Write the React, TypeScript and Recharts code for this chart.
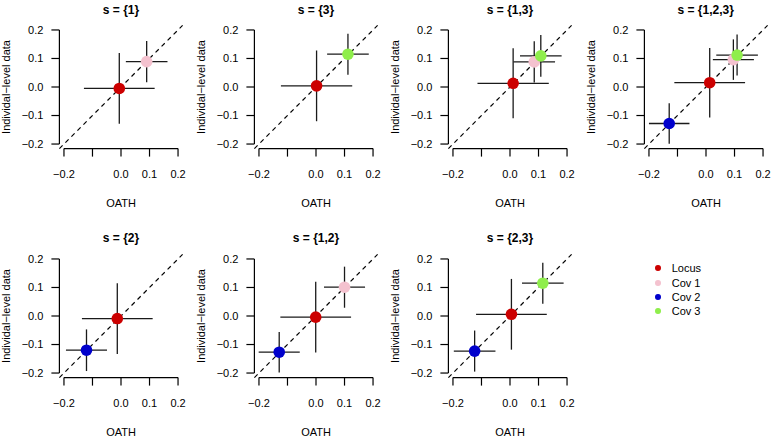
import { ScatterChart, Scatter, XAxis, YAxis, ErrorBar, ReferenceLine } from "recharts";

const titles = ["s = {1}", "s = {3}", "s = {1,3}", "s = {1,2,3}", "s = {2}", "s = {1,2}", "s = {2,3}"];
const seriesNames = ["Locus", "Cov 1", "Cov 2", "Cov 3"];
const seriesColors = ["#cc0000", "#f4c2cf", "#0000cc", "#8fee4c"];
const axisTicks = [-0.2, -0.1, 0, 0.1, 0.2];

// per panel (same order as titles), null = covariate not in s
const locusOath = [-0.006, 0.002, 0.011, 0.013, -0.013, -0.001, 0.005];
const locusInd = [-0.005, 0.004, 0.013, 0.015, -0.009, -0.004, 0.006];
const locusOathErr = [0.124, 0.125, 0.125, 0.124, 0.124, 0.124, 0.124];
const locusIndErr = [0.124, 0.124, 0.123, 0.122, 0.124, 0.124, 0.124];

const cov1Oath = [0.09, null, 0.085, 0.096, null, 0.1, null];
const cov1Ind = [0.089, null, 0.088, 0.096, null, 0.101, null];
const cov1OathErr = [0.073, null, 0.073, 0.072, null, 0.072, null];
const cov1IndErr = [0.072, null, 0.072, 0.071, null, 0.072, null];

const cov2Oath = [null, null, null, -0.129, -0.121, -0.129, -0.124];
const cov2Ind = [null, null, null, -0.128, -0.12, -0.127, -0.123];
const cov2OathErr = [null, null, null, 0.071, 0.072, 0.072, 0.073];
const cov2IndErr = [null, null, null, 0.071, 0.073, 0.071, 0.072];

const cov3Oath = [null, 0.112, 0.108, 0.109, null, null, 0.115];
const cov3Ind = [null, 0.115, 0.109, 0.112, null, null, 0.115];
const cov3OathErr = [null, 0.073, 0.073, 0.073, null, null, 0.073];
const cov3IndErr = [null, 0.072, 0.073, 0.072, null, null, 0.072];

const oathBySeries = [locusOath, cov1Oath, cov2Oath, cov3Oath];
const indBySeries = [locusInd, cov1Ind, cov2Ind, cov3Ind];
const oathErrBySeries = [locusOathErr, cov1OathErr, cov2OathErr, cov3OathErr];
const indErrBySeries = [locusIndErr, cov1IndErr, cov2IndErr, cov3IndErr];

const LIM = 0.216;
const COL_LEFT = [0, 195, 389, 584.7];
const ROW_TOP = [0, 228.7];
const FONT = "'Liberation Sans', Arial, Helvetica, sans-serif";
const AXIS_COLOR = "#000";

const tickLo = axisTicks[0];
const tickHi = axisTicks[axisTicks.length - 1];
// axis lines in R style: only from first to last tick, on the edge of the plot box
const xAxisLine = [{ x: tickLo, y: -LIM }, { x: tickHi, y: -LIM }];
const yAxisLine = [{ x: -LIM, y: tickLo }, { x: -LIM, y: tickHi }];

const fmt = (v: number) => (v < 0 ? "\u2212" : "") + Math.abs(v).toFixed(1);
const fmtX = (v: number) => (Math.abs(v + 0.1) < 1e-9 ? "" : fmt(v));

const Dot = (p: any) => <circle cx={p.cx} cy={p.cy} r={5.8} fill={p.fill} />;
const Nothing = () => <g />;

function Panel({ idx }: { idx: number }) {
  const rows = seriesNames.map((_, s) => {
    const x = oathBySeries[s][idx];
    if (x == null) return [];
    return [{ x, y: indBySeries[s][idx], ex: oathErrBySeries[s][idx], ey: indErrBySeries[s][idx] }];
  });
  return (
    <ScatterChart width={186} height={210} margin={{ top: 25.4, right: 3.4, bottom: 1.4, left: 0 }}>
      <XAxis
        type="number"
        dataKey="x"
        domain={[-LIM, LIM]}
        ticks={axisTicks}
        interval={0}
        axisLine={false}
        tickLine={{ stroke: AXIS_COLOR, strokeWidth: 1.2 }}
        tickSize={8}
        tickMargin={13.4}
        tick={{ fontSize: 11, fill: "#000" }}
        tickFormatter={fmtX}
        height={60}
        label={{ value: "OATH", position: "insideBottom", offset: 1.4, fontSize: 11, fill: "#000" }}
      />
      <YAxis
        type="number"
        dataKey="y"
        domain={[-LIM, LIM]}
        ticks={axisTicks}
        interval={0}
        axisLine={false}
        tickLine={{ stroke: AXIS_COLOR, strokeWidth: 1.2 }}
        tickSize={8}
        tickMargin={8}
        tick={{ fontSize: 11, fill: "#000" }}
        tickFormatter={fmt}
        width={59.4}
        label={{
          value: "Individal\u2212level data",
          angle: -90,
          position: "insideLeft",
          offset: 6.3,
          fontSize: 11,
          fill: "#000",
          style: { textAnchor: "middle" },
        }}
      />
      <ReferenceLine
        segment={[{ x: -LIM, y: -LIM }, { x: LIM, y: LIM }]}
        stroke="#000"
        strokeWidth={1.2}
        strokeDasharray="4.5 4"
      />
      <Scatter data={xAxisLine} shape={Nothing} line={{ stroke: AXIS_COLOR, strokeWidth: 1.2 }} isAnimationActive={false} />
      <Scatter data={yAxisLine} shape={Nothing} line={{ stroke: AXIS_COLOR, strokeWidth: 1.2 }} isAnimationActive={false} />
      {rows.map((d, s) => (
        <Scatter key={"p" + s} data={d} fill={seriesColors[s]} shape={Dot} isAnimationActive={false} />
      ))}
      {rows.map((d, s) => (
        <Scatter key={"e" + s} data={d} shape={Nothing} isAnimationActive={false}>
          <ErrorBar dataKey="ex" direction="x" width={0} stroke="#1a1a1a" strokeWidth={1.3} isAnimationActive={false} />
          <ErrorBar dataKey="ey" direction="y" width={0} stroke="#1a1a1a" strokeWidth={1.3} isAnimationActive={false} />
        </Scatter>
      ))}
    </ScatterChart>
  );
}

export default function App() {
  const legendY = [268.3, 282.7, 297, 311.3];
  return (
    <div
      style={{
        position: "absolute",
        left: 0,
        top: 0,
        width: 771,
        height: 438,
        overflow: "hidden",
        background: "#fff",
        fontFamily: FONT,
      }}
    >
      {titles.map((t, i) => {
        const col = i < 4 ? i : i - 4;
        const row = i < 4 ? 0 : 1;
        return (
          <div key={i} style={{ position: "absolute", left: COL_LEFT[col], top: ROW_TOP[row] }}>
            <div
              style={{
                position: "absolute",
                left: 121 - 60,
                width: 120,
                top: 2.5,
                lineHeight: "14px",
                fontSize: 12,
                fontWeight: "bold",
                textAlign: "center",
                whiteSpace: "nowrap",
              }}
            >
              {t}
            </div>
            <Panel idx={i} />
          </div>
        );
      })}
      {seriesNames.map((n, s) => (
        <div key={n}>
          <div
            style={{
              position: "absolute",
              left: 657.7 - 2.9,
              top: legendY[s] - 2.9,
              width: 5.8,
              height: 5.8,
              borderRadius: "50%",
              background: seriesColors[s],
            }}
          />
          <div style={{ position: "absolute", left: 671.7, top: legendY[s] - 7, lineHeight: "14px", fontSize: 11 }}>
            {n}
          </div>
        </div>
      ))}
    </div>
  );
}
